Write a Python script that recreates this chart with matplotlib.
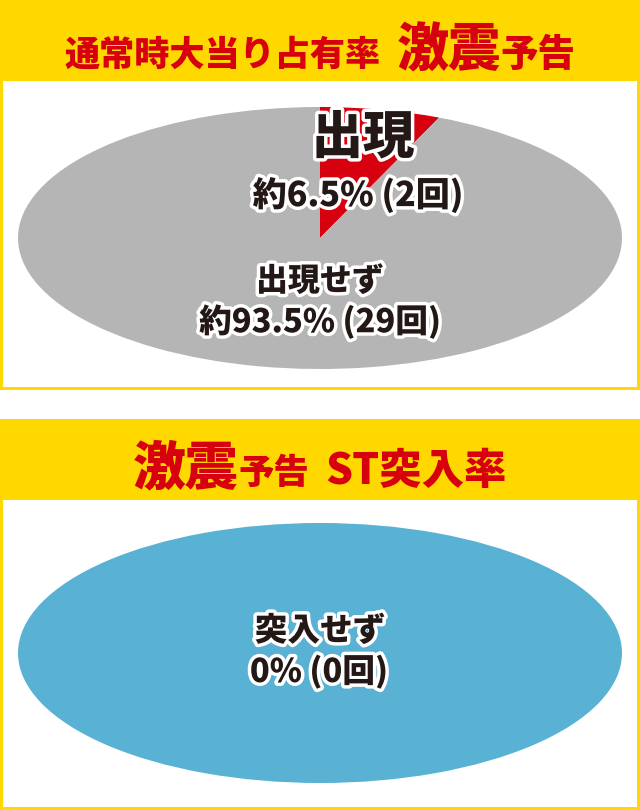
import matplotlib
matplotlib.use("Agg")
import matplotlib.pyplot as plt
import matplotlib.patheffects as pe
from matplotlib.patches import Rectangle

plt.rcParams['font.family'] = ['Noto Sans CJK JP', 'DejaVu Sans']

# data
share_labels = ["出現", "出現せず"]
share_counts = [2, 29]
share_pct = ["約6.5% (2回)", "約93.5% (29回)"]
st_labels = ["突入", "突入せず"]
st_counts = [0, 2]
st_pct = ["0%", "0% (0回)"]

title1 = [("通常時大当り占有率", 25.3), ("  ", 25.3), ("激震", 37.5), ("予告", 27)]
title2 = [("激震", 38), ("予告", 25.5), ("  ", 26), ("ST突入率", 30.5)]

YELLOW = "#FFD800"
RED = "#D7000F"
GRAY = "#B5B5B6"
BLUE = "#59B1D4"
INK = "#231815"

W, H = 640, 810
fig = plt.figure(figsize=(W / 100, H / 100), dpi=100)
fig.patch.set_facecolor("white")

bg = fig.add_axes([0, 0, 1, 1], zorder=0)
bg.set_xlim(0, W)
bg.set_ylim(H, 0)
bg.axis("off")

# panels: yellow frame + header, white inner box
for top, head, bottom in [(0, 81, 390), (419, 500, 810)]:
    bg.add_patch(Rectangle((0, top), W, bottom - top, color=YELLOW, lw=0))
    bg.add_patch(Rectangle((3, head), W - 6, bottom - head - 3.5, color="white", lw=0))

# pies, squashed into ellipses
def pie_axes(y0, y1):
    ax = fig.add_axes([18 / W, (H - y1) / H, 604 / W, (y1 - y0) / H], zorder=1)
    return ax

ax1 = pie_axes(107, 369)
ax1.pie(share_counts, colors=[RED, GRAY], startangle=90, counterclock=False,
        wedgeprops=dict(linewidth=0))
ax1.set_aspect("auto")
ax1.set_xlim(-1, 1)
ax1.set_ylim(-1, 1)
ax1.axis("off")

ax2 = pie_axes(523, 783)
ax2.pie(st_counts, colors=[RED, BLUE], startangle=90, counterclock=False,
        wedgeprops=dict(linewidth=0))
ax2.set_aspect("auto")
ax2.set_xlim(-1, 1)
ax2.set_ylim(-1, 1)
ax2.axis("off")

top = fig.add_axes([0, 0, 1, 1], zorder=5)
top.set_xlim(0, W)
top.set_ylim(H, 0)
top.axis("off")
top.patch.set_alpha(0)

renderer = fig.canvas.get_renderer()

def title_line(runs, baseline):
    texts = []
    for s, size in runs:
        t = top.text(0, baseline, s, fontsize=size, color=RED, fontweight="black",
                     ha="left", va="baseline")
        texts.append(t)
    widths = [t.get_window_extent(renderer).width for t in texts]
    x = W / 2 - sum(widths) / 2
    for t, w in zip(texts, widths):
        t.set_x(x)
        x += w

title_line(title1, 66)
title_line(title2, 484)

stroke = [pe.withStroke(linewidth=5, foreground="white")]

def label(x, y, s, size):
    top.text(x, y, s, fontsize=size, color=INK, fontweight="black",
             ha="center", va="center", path_effects=stroke)

label(363, 138, share_labels[0], 37)
label(358, 195, share_pct[0], 24.5)
label(320, 281, share_labels[1], 23)
label(320, 322, share_pct[1], 23.5)
label(320, 631, st_labels[1], 23.5)
label(319, 672, st_pct[1], 23.5)

fig.savefig("out.png", dpi=100)
